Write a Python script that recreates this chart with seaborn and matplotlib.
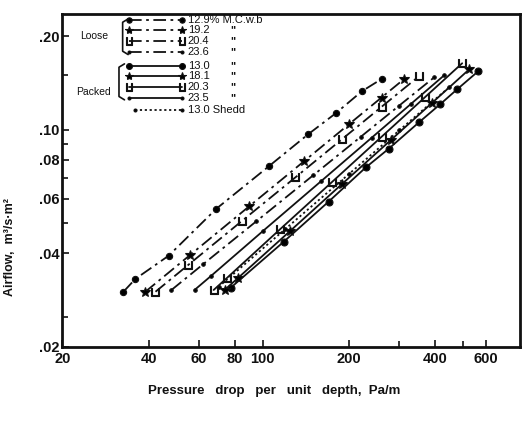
import matplotlib
matplotlib.use("Agg")
import matplotlib.pyplot as plt
import seaborn as sns
import pandas as pd
from matplotlib.ticker import FixedLocator, NullFormatter

sns.set_style("ticks")
plt.rcParams['font.family'] = ['Liberation Sans', 'DejaVu Sans']

# ---- data ----
loose_129_p = [32.7, 36, 47, 69, 105, 144, 180, 222, 261]
loose_129_a = [0.0301, 0.0331, 0.0393, 0.0557, 0.0762, 0.0966, 0.113, 0.133, 0.146]
loose_192_p = [39, 56, 90, 140, 200, 260, 311]
loose_192_a = [0.0301, 0.0396, 0.0568, 0.0794, 0.1041, 0.127, 0.1454]
loose_204_p = [42.3, 55, 85, 130, 190, 260, 351]
loose_204_a = [0.0301, 0.0367, 0.051, 0.0702, 0.0935, 0.1185, 0.1486]
loose_236_p = [48.1, 62, 95, 150, 220, 300, 397]
loose_236_a = [0.0305, 0.0369, 0.0507, 0.0713, 0.0949, 0.1197, 0.1475]
packed_130_p = [77.4, 118.5, 170, 229, 276, 351, 416, 477, 565]
packed_130_a = [0.031, 0.0436, 0.0587, 0.0756, 0.087, 0.1056, 0.1207, 0.1349, 0.1542]
packed_181_p = [73.7, 82, 125, 190, 280, 390, 526]
packed_181_a = [0.0305, 0.0333, 0.0473, 0.0671, 0.0926, 0.122, 0.1565]
packed_203_p = [67.5, 75, 115, 175, 260, 370, 497]
packed_203_a = [0.0305, 0.0333, 0.0478, 0.068, 0.0949, 0.1277, 0.1637]
packed_235_p = [57.9, 66, 100, 160, 240, 330, 430]
packed_235_a = [0.0305, 0.0338, 0.0471, 0.0683, 0.0942, 0.1213, 0.1497]
shedd_130_p = [70.2, 120, 200, 300, 447]
shedd_130_a = [0.0312, 0.0479, 0.072, 0.0996, 0.1369]

legend_labels = ["12.9% M.C.w.b", "19.2", "20.4", "23.6",
                 "13.0", "18.1", "20.3", "23.5", "13.0 Shedd"]
xtick_vals = [20, 40, 60, 80, 100, 200, 400, 600]
xtick_labels = ["20", "40", "60", "80", "100", "200", "400", "600"]
ytick_vals = [0.02, 0.04, 0.06, 0.08, 0.10, 0.20]
ytick_labels = [".02", ".04", ".06", ".08", ".10", ".20"]

series = [
    (loose_129_p, loose_129_a),
    (loose_192_p, loose_192_a),
    (loose_204_p, loose_204_a),
    (loose_236_p, loose_236_a),
    (packed_130_p, packed_130_a),
    (packed_181_p, packed_181_a),
    (packed_203_p, packed_203_a),
    (packed_235_p, packed_235_a),
    (shedd_130_p, shedd_130_a),
]

dashdot = (0, (7, 2.5, 1.5, 2.5))
U = r'$\sqcup$'
styles = [
    dict(ls=dashdot, marker='o', ms=4.5, mfc='k'),
    dict(ls=dashdot, marker='*', ms=7, mfc='k'),
    dict(ls=dashdot, marker=U, ms=6, mfc='none'),
    dict(ls=dashdot, marker='.', ms=5, mfc='k'),
    dict(ls='-', marker='o', ms=5, mfc='k'),
    dict(ls='-', marker='*', ms=7, mfc='k'),
    dict(ls='-', marker=U, ms=6, mfc='none'),
    dict(ls='-', marker='.', ms=5, mfc='k'),
    dict(ls=(0, (1.2, 1.5)), marker='.', ms=5, mfc='k'),
]

INK = '#111111'

fig = plt.figure(figsize=(5.23, 4.22), dpi=100)
ax = fig.add_axes([0.119, 0.178, 0.875, 0.789])

for (p, a), st in zip(series, styles):
    df = pd.DataFrame({'p': p, 'a': a})
    sns.lineplot(data=df, x='p', y='a', ax=ax, color=INK, lw=1.3,
                 linestyle=st['ls'], marker=st['marker'], markersize=st['ms'],
                 markerfacecolor=st['mfc'], markeredgecolor=INK,
                 markeredgewidth=0.8, sort=False, legend=False)

ax.set_xscale('log')
ax.set_yscale('log')
ax.set_xlim(20, 790)
ax.set_ylim(0.02, 0.236)

ax.xaxis.set_major_locator(FixedLocator(xtick_vals))
ax.set_xticklabels(xtick_labels)
ax.xaxis.set_minor_locator(FixedLocator([300, 500]))
ax.xaxis.set_minor_formatter(NullFormatter())
ax.yaxis.set_major_locator(FixedLocator(ytick_vals))
ax.set_yticklabels(ytick_labels)
ax.yaxis.set_minor_locator(FixedLocator([0.025, 0.05, 0.07, 0.09, 0.15]))
ax.yaxis.set_minor_formatter(NullFormatter())

ax.tick_params(which='both', direction='in', color=INK, width=1.2)
ax.tick_params(which='major', length=5, labelsize=10.5, pad=2)
ax.tick_params(which='minor', length=4)
ax.tick_params(axis='x', pad=4)
for lab in ax.get_xticklabels() + ax.get_yticklabels():
    lab.set_fontweight('bold')
    lab.set_color(INK)
for sp in ax.spines.values():
    sp.set_visible(True)
    sp.set_linewidth(2)
    sp.set_color(INK)

ax.set_xlabel("Pressure   drop   per   unit   depth,  Pa/m", fontsize=9.5,
              fontweight='bold', color=INK)
ax.xaxis.set_label_coords(0.463, -0.115)
ax.set_ylabel("Airflow,  m³/s·m²", fontsize=9, fontweight='bold', color=INK)
ax.yaxis.set_label_coords(-0.1, 0.30)

# ---- hand drawn legend ----
row_y = [0.982, 0.952, 0.919, 0.886, 0.844, 0.814, 0.781, 0.748, 0.712]
hx0, hx1, tx, dx = 0.146, 0.262, 0.274, 0.367
for i, (st, lab) in enumerate(zip(styles, legend_labels)):
    y = row_y[i]
    x0 = hx0 if i < 8 else 0.16
    ax.plot([x0, hx1], [y, y], transform=ax.transAxes, color=INK, lw=1.3,
            linestyle=st['ls'], marker=st['marker'], markersize=st['ms'] * 0.85,
            markerfacecolor=st['mfc'], markeredgecolor=INK, markeredgewidth=0.8,
            clip_on=False)
    ax.text(tx, y, lab, transform=ax.transAxes, fontsize=8, va='center',
            ha='left', color=INK)
    if 0 < i < 8:
        ax.text(dx, y, '"', transform=ax.transAxes, fontsize=8, va='center',
                ha='left', color=INK, fontweight='bold')

ax.text(0.04, 0.934, "Loose", transform=ax.transAxes, fontsize=7.5,
        va='center', ha='left', color=INK)
ax.text(0.03, 0.766, "Packed", transform=ax.transAxes, fontsize=7.5,
        va='center', ha='left', color=INK)
# brackets
for (yt, yb, xb) in [(0.985, 0.878, 0.132), (0.85, 0.742, 0.124)]:
    ax.plot([xb + 0.012, xb, xb, xb + 0.012], [yt, yt - 0.01, yb + 0.01, yb],
            transform=ax.transAxes, color=INK, lw=1.2, clip_on=False)

fig.savefig("out.png", dpi=100)
